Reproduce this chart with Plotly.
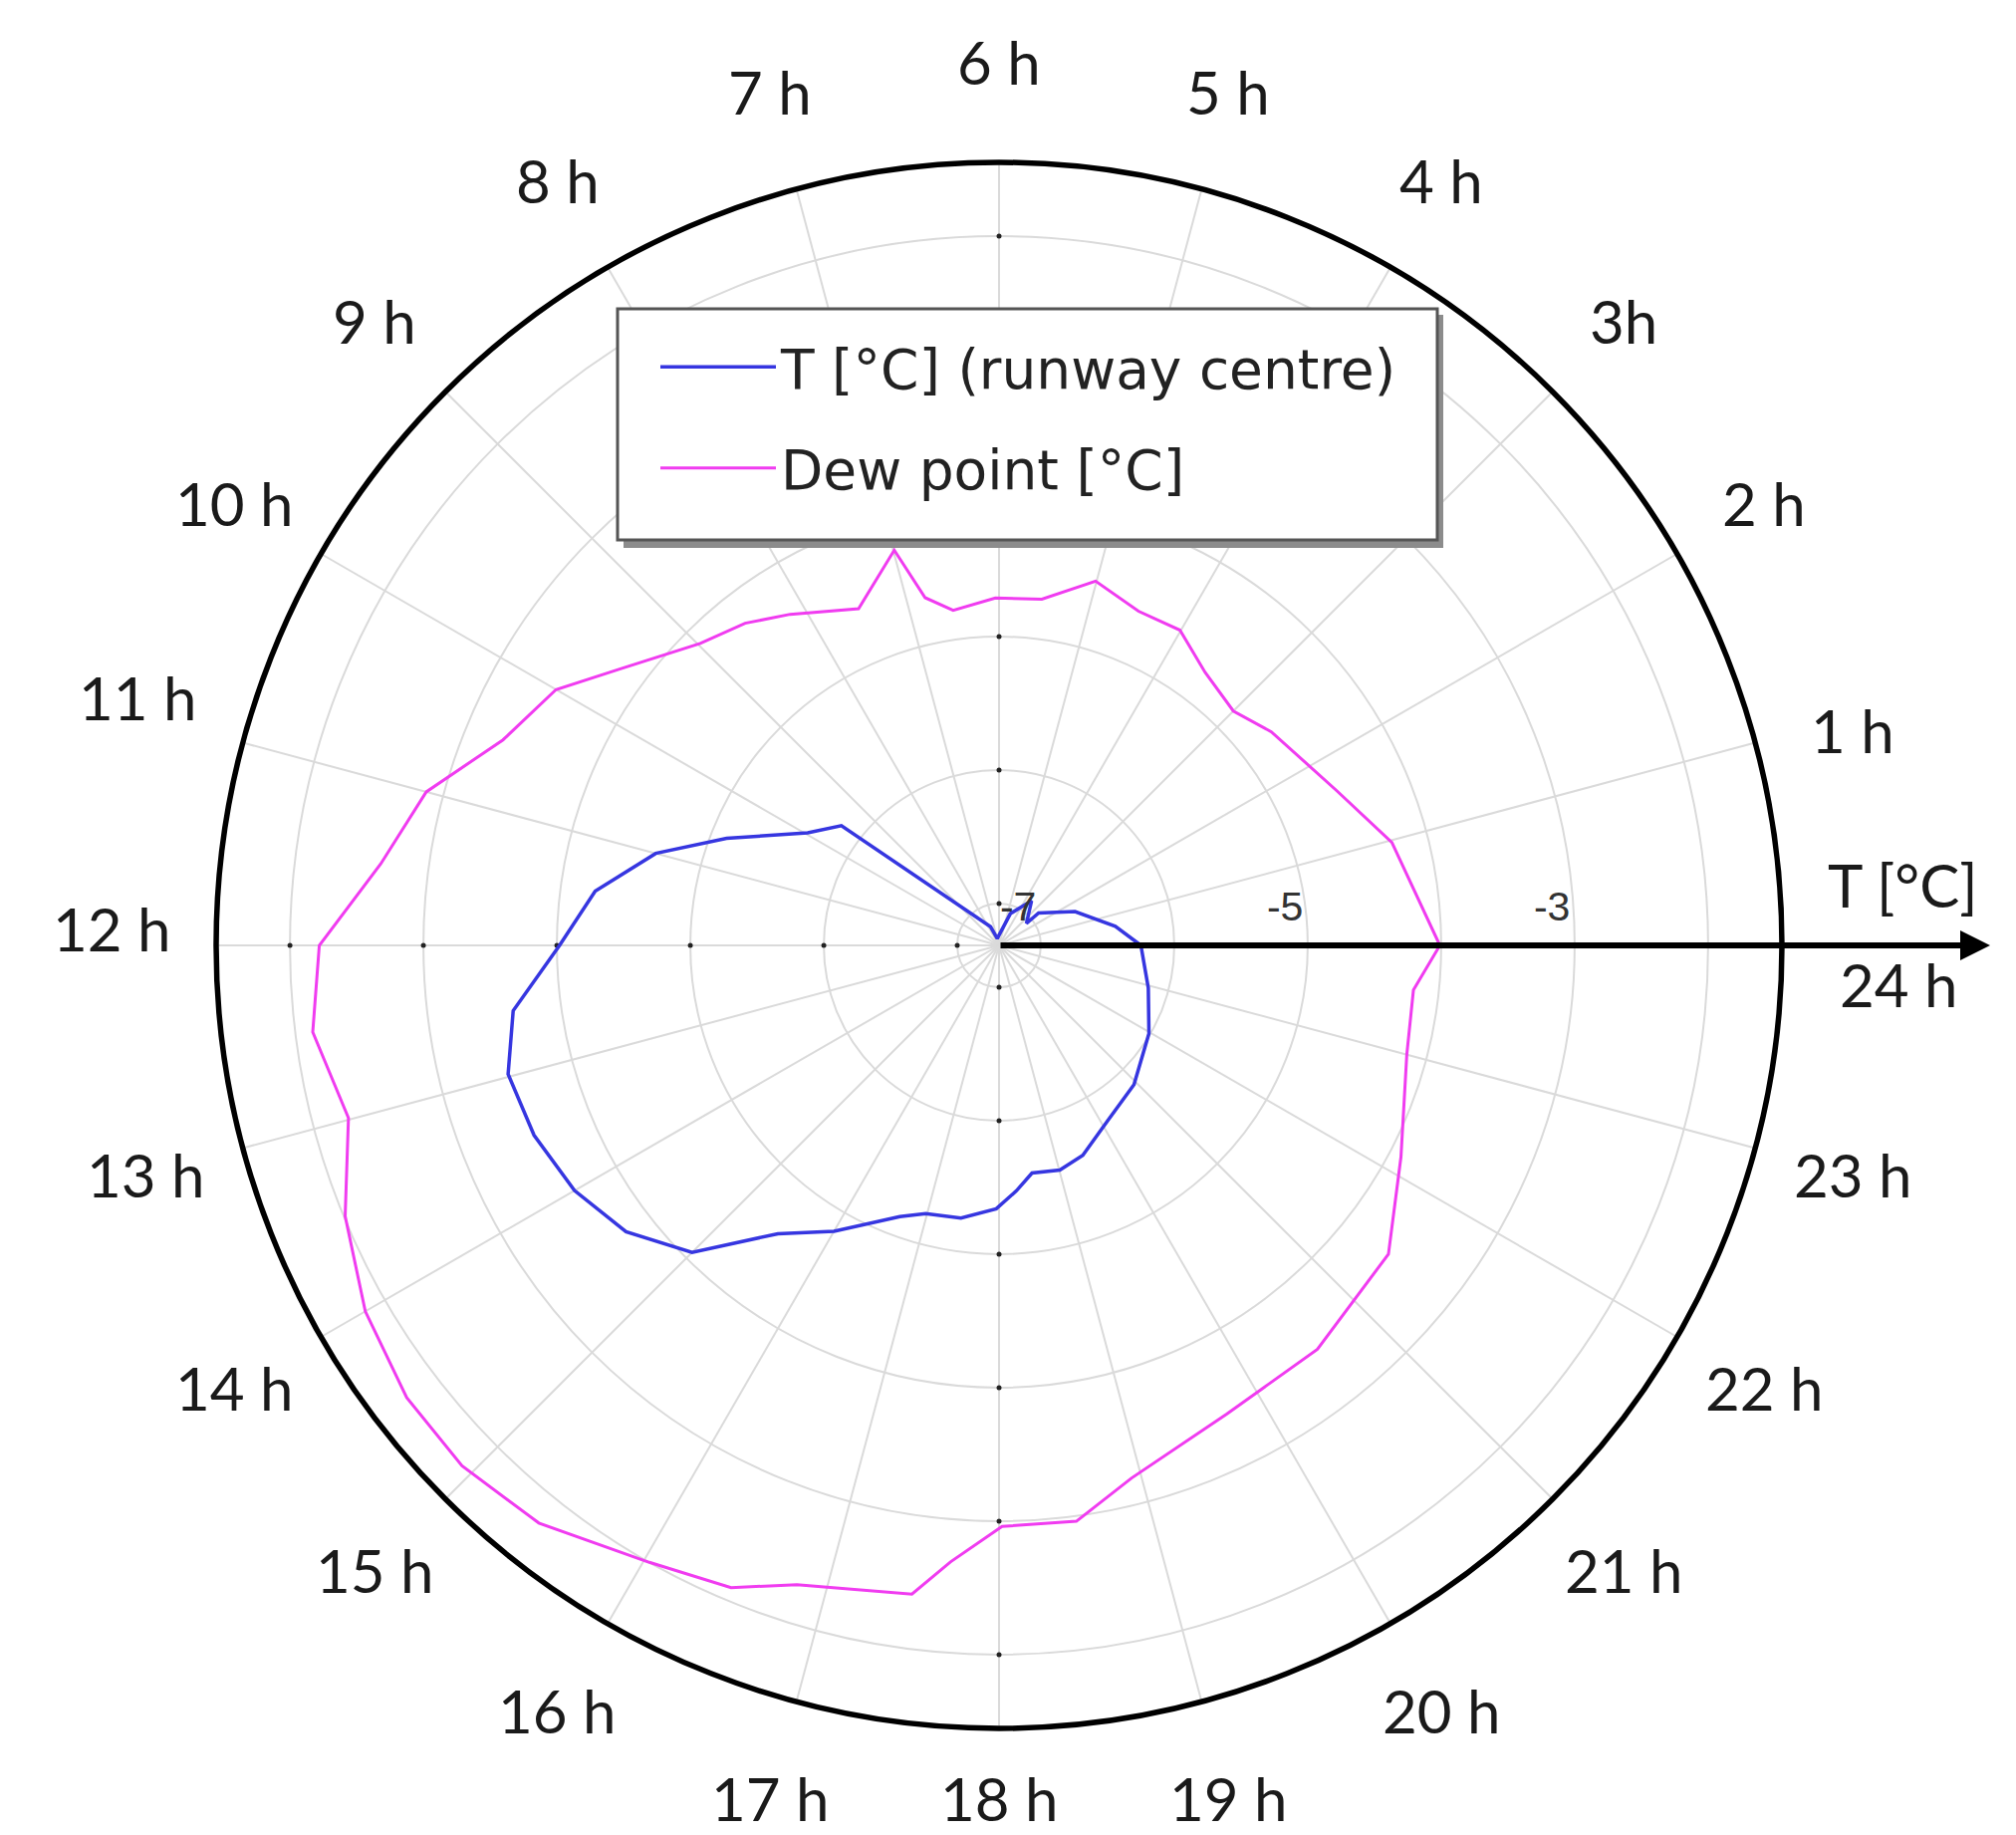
import math
import plotly.graph_objects as go

# ---------------- data ----------------
# Dew point [°C]; hour of day vs value
dew_hours = [0.00, 0.98, 1.64, 2.54, 3.00, 3.53, 4.01, 4.49, 5.01, 5.53, 6.04, 6.52,
             6.80, 6.99, 7.51, 8.15, 8.55, 8.98, 9.59, 10.00, 10.50, 11.00, 11.50,
             12.00, 12.48, 12.99, 13.50, 14.00, 14.49, 14.94, 15.43, 16.03, 16.49,
             16.83, 17.49, 17.70, 18.02, 18.51, 18.93, 19.73, 20.55, 21.44, 22.15,
             23.00, 23.59, 24.00]
dew_vals = [-4.01, -4.27, -4.53, -4.72, -4.83, -4.75, -4.59, -4.60, -4.49, -4.70, -4.71, -4.78,
            -4.65, -4.25, -4.58, -4.38, -4.24, -4.13, -3.80, -3.48, -3.29, -2.87, -2.64,
            -2.22, -2.13, -2.27, -2.01, -1.83, -1.73, -1.71, -1.78, -2.00, -2.10,
            -2.29, -2.41, -2.68, -2.96, -2.96, -3.20, -3.41, -3.46, -3.59, -3.91,
            -4.15, -4.19, -4.01]

# T [°C] (runway centre)
t_hours = [0.00, 0.62, 1.60, 2.62, 2.58, 3.59, 4.69, 6.97, 7.63, 9.52, 9.97, 10.57,
           11.00, 11.49, 12.00, 12.51, 12.98, 13.48, 14.00, 14.50, 15.00, 15.50, 16.00,
           16.66, 16.98, 17.47, 17.96, 18.27, 18.55, 19.01, 19.45, 20.13, 20.94, 21.97,
           22.94, 24.00]
t_vals = [-6.25, -6.43, -6.69, -6.93, -7.05, -6.90, -7.06, -7.26, -7.16, -5.83, -5.65, -5.12,
          -4.65, -4.26, -4.02, -3.64, -3.51, -3.55, -3.64, -3.79, -4.06, -4.59, -4.84,
          -5.15, -5.23, -5.25, -5.34, -5.47, -5.59, -5.57, -5.62, -5.77, -5.86, -6.01,
          -6.15, -6.25]

# axis definitions
ring_vals = [-7, -6, -5, -4, -3, -2]
ring_text = ["-7", "", "-5", "", "-3", ""]
label_hours = list(range(1, 24))
hour_labels = [("3h" if h == 3 else f"{h} h") for h in label_hours]
dot_angles = [90, 180, 270]

R_MIN, R_MAX = -7.313, -1.447
DEG_PER_HOUR = 15

HOUR_FONT = dict(family="Lato", size=60, color="#1a1a1a")
NBSP = "\u00a0"

# ---------------- geometry (figure pixels) ----------------
W, H = 2016, 1834            # page body keeps an 8px margin
cx, cy, R = 995, 941, 786    # polar centre and radius
R_LABEL = 887                # radius of hour-label centres
LABEL_NUDGE = {1: (0, 14), 11: (-8, -19), 12: (-4, -17)}   # small placement tweaks (px)


def px(x):
    return x / W


def py(y):
    return 1 - y / H


fig = go.Figure()

# small tick dots on the 90/180/270 degree axes
fig.add_trace(go.Scatterpolar(
    r=[v for a in dot_angles for v in ring_vals],
    theta=[a for a in dot_angles for v in ring_vals],
    mode="markers", marker=dict(color="#222222", size=5),
    showlegend=False, hoverinfo="skip"))

fig.add_trace(go.Scatterpolar(
    r=t_vals, theta=[h * DEG_PER_HOUR for h in t_hours],
    mode="lines", line=dict(color="#3636e0", width=3.5),
    name="T [°C] (runway centre)", legendgroup="t"))

fig.add_trace(go.Scatterpolar(
    r=dew_vals, theta=[h * DEG_PER_HOUR for h in dew_hours],
    mode="lines", line=dict(color="#f03cf0", width=3),
    name="Dew point [°C]", legendgroup="dew"))

# hour labels around the circle
annotations = []
for h, txt in zip(label_hours, hour_labels):
    a = math.radians(h * DEG_PER_HOUR)
    dx, dy = LABEL_NUDGE.get(h, (0, 0))
    x = cx + R_LABEL * math.cos(a) + dx
    y = min(cy - R_LABEL * math.sin(a) + dy, H - 37)
    annotations.append(dict(x=px(x), y=py(y), xref="paper", yref="paper", text=txt,
                            showarrow=False, xanchor="center", yanchor="middle",
                            font=HOUR_FONT))

# axis arrow and its labels
annotations += [
    dict(x=px(1990), y=py(cy), xref="paper", yref="paper", text="",
         showarrow=True, ax=-(1990 - cx), ay=0, arrowhead=2, arrowsize=1,
         arrowwidth=6, arrowcolor="black"),
    dict(x=px(1902), y=py(880), xref="paper", yref="paper", text="T [°C]",
         showarrow=False, xanchor="center", yanchor="middle", font=HOUR_FONT),
    dict(x=px(1898), y=py(980), xref="paper", yref="paper", text="24 h",
         showarrow=False, xanchor="center", yanchor="middle", font=HOUR_FONT),
]

fig.update_layout(
    width=W, height=H,
    margin=dict(l=0, r=0, t=0, b=0),
    paper_bgcolor="white",
    polar=dict(
        domain=dict(x=[px(cx - R), px(cx + R)],
                    y=[py(cy + R), py(cy - R)]),
        bgcolor="white",
        radialaxis=dict(
            range=[R_MIN, R_MAX], tickmode="array", tickvals=ring_vals,
            ticktext=[t + NBSP * 4 if t else t for t in ring_text],
            angle=0, side="counterclockwise", showline=False,
            ticks="outside", ticklen=8, tickcolor="rgba(0,0,0,0)",
            gridcolor="#dadada", gridwidth=2,
            tickfont=dict(family="Liberation Sans", size=41, color="#333333")),
        angularaxis=dict(
            rotation=0, direction="counterclockwise",
            tickmode="array", tickvals=[h * DEG_PER_HOUR for h in range(24)],
            showticklabels=False, ticks="",
            showline=True, linecolor="black", linewidth=5.5,
            gridcolor="#dadada", gridwidth=2),
    ),
    showlegend=True,
    legend=dict(
        x=px(650), y=py(318), xanchor="left", yanchor="top",
        bgcolor="rgba(0,0,0,0)", borderwidth=0,
        font=dict(family="DejaVu Sans", size=55, color="#222222"),
        itemwidth=116, traceorder="grouped", tracegroupgap=27),
    shapes=[
        dict(type="rect", xref="paper", yref="paper",
             x0=px(618), x1=px(1441), y0=py(542), y1=py(308),
             fillcolor="#8c8c8c", line=dict(width=0), layer="above"),
        dict(type="rect", xref="paper", yref="paper",
             x0=px(612), x1=px(1435), y0=py(534), y1=py(302),
             fillcolor="white", line=dict(color="#555555", width=3), layer="above"),
    ],
    annotations=annotations,
)

fig.write_html("out.html")
